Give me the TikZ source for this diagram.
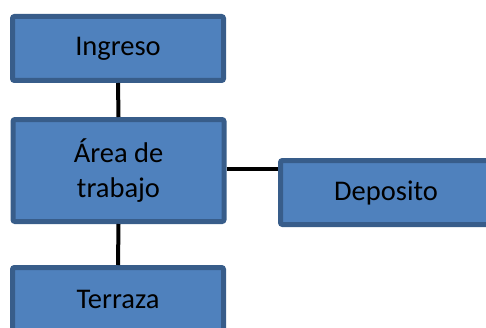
\documentclass[tikz,border=0pt]{standalone}
\usepackage{fontspec}
\setmainfont{Carlito}
\usepackage{xcolor}
\definecolor{boxfill}{HTML}{4F81BD}
\definecolor{boxline}{HTML}{385D8A}

\begin{document}
\begin{tikzpicture}[x=1pt,y=1pt,every node/.style={font=\fontsize{28.5}{35}\selectfont}]
\tikzset{room/.style={draw=boxline,fill=boxfill,line width=5pt,rounded corners=2pt,
  minimum width=211pt,minimum height=64pt,align=center,inner sep=0pt},
  link/.style={black,line width=4pt}}
\useasboundingbox (0,0) rectangle (486,327);
\clip (0,0) rectangle (486,327);
\node[room] (ingreso) at (118,278.5) {Ingreso};
\node[room,minimum height=102pt] (area) at (118.5,156.5) {Área de\\trabajo};
\node[room] (deposito) at (386,134.5) {Deposito};
\node[room] (terraza) at (118,27.5) {Terraza};
\draw[link] (ingreso.south) -- (area.north);
\draw[link] (area.south) -- (terraza.north);
\draw[link] ([yshift=2pt]area.east) -- ([yshift=2pt]area.east -| deposito.west);
\end{tikzpicture}
\end{document}
